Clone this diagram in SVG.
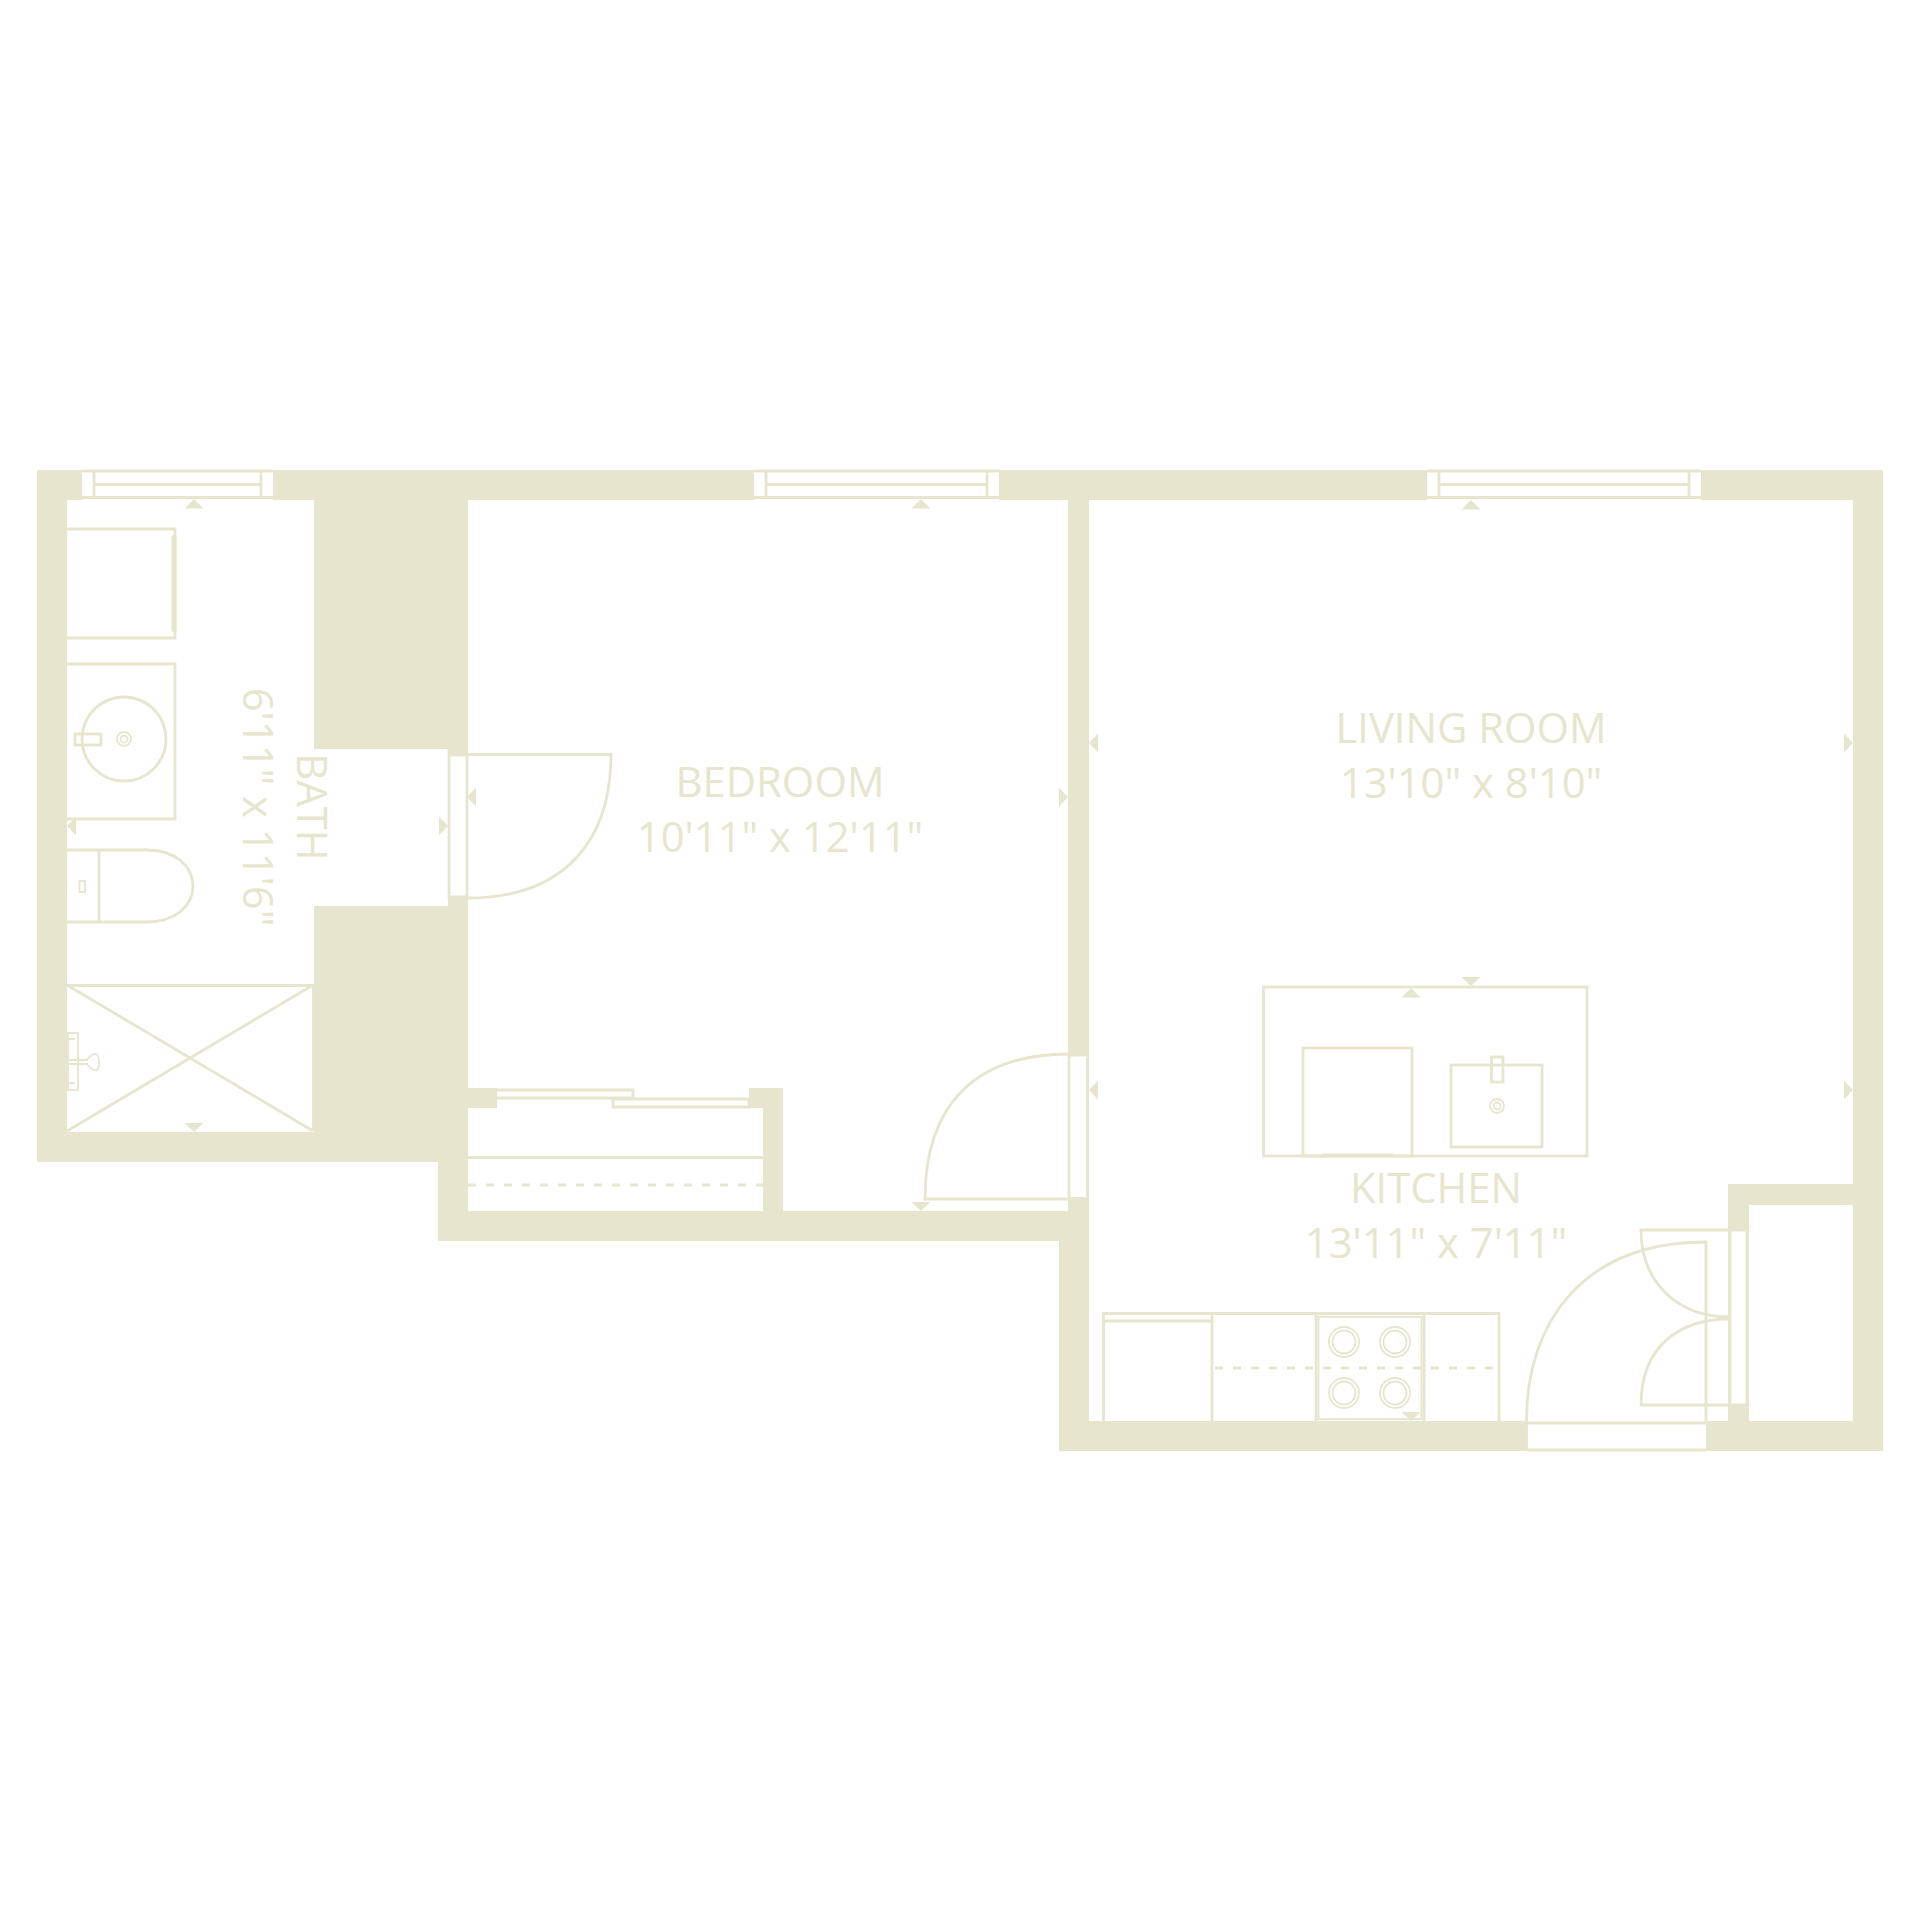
<svg xmlns="http://www.w3.org/2000/svg" width="1920" height="1920" viewBox="0 0 1920 1920">
<style>
.w{fill:#e7e5ce}
.o{fill:#fff;stroke:none}
.l{fill:none;stroke:#e7e5ce;stroke-width:2.800}
.f{fill:none;stroke:#e7e5ce;stroke-width:1.800}
.d{fill:none;stroke:#e7e5ce;stroke-width:2.800;stroke-dasharray:8 10}
.t{fill:#e7e5ce;font-family:"Open Sans","Liberation Sans",sans-serif;font-size:41.800px;font-weight:400;text-anchor:middle}
</style>
<defs>
<polygon id="up" class="w" points="0,0 9.500,9.500 -9.500,9.500"/>
<polygon id="down" class="w" points="0,0 9.500,-9 -9.500,-9"/>
<polygon id="left" class="w" points="0,0 9,-9.500 9,9.500"/>
<polygon id="right" class="w" points="0,0 -9,-9.500 -9,9.500"/>
</defs>
<rect width="1920" height="1920" fill="#fff"/>
<g id="walls">
<path class="w" fill-rule="evenodd" d="M37,470H1883V1451H1059V1241H438V1162H37Z
M67,500H314V749H448V906H314V1132H67Z
M468,500H1068V1211H783V1088H749V1108H763V1211H468V1108H497V1088H468Z
M1089,500H1853V1184H1728V1421H1089Z
M1749,1205H1853V1421H1749Z"/>
</g>
<g id="bedroom-closet">
<rect class="o" x="497" y="1087" width="252" height="22"/>
<path class="l" d="M497,1090H633V1098H497M613,1107H749V1099H613Z"/>
<path class="l" d="M468,1157.500H763"/>
<path class="d" d="M468,1185H763"/>
</g>
<g id="windows">
<g id="window-bath"><rect class="o" x="82" y="470" width="191" height="30"/><path class="l" d="M82,471H273M94,471V497M261,471V497M94,484.500H261M82,497.500H273"/></g>
<g id="window-bedroom"><rect class="o" x="754" y="470" width="245" height="30"/><path class="l" d="M754,471H999M766,471V497M987,471V497M766,484.500H987M754,497.500H999"/></g>
<g id="window-living"><rect class="o" x="1427" y="470" width="274" height="30"/><path class="l" d="M1427,471H1701M1439,471V497M1689,471V497M1439,484.500H1689M1427,497.500H1701"/></g>
</g>
<g id="door-bath">
<rect class="o" x="449" y="755" width="18" height="143"/>
<path class="l" d="M449,749V897H467V755H449"/>
<path class="l" d="M468,754.500H611C611,840 565,898 468,898"/>
</g>
<g id="door-bedroom">
<rect class="o" x="1069" y="1055" width="18" height="144"/>
<path class="l" d="M1069,1055H1087.500V1198.500H1069Z"/>
<path class="l" d="M1069,1054C975,1054 925,1105 925,1199H1069"/>
</g>
<g id="door-closet">
<rect class="o" x="1730" y="1230" width="17" height="175"/>
<path class="l" d="M1730,1230H1747V1405H1730Z"/>
<path class="l" d="M1730,1230H1641C1641,1280 1675,1317 1730,1317"/>
<path class="l" d="M1730,1319C1675,1319 1641,1350 1641,1405H1730"/>
</g>
<g id="door-entry">
<rect class="o" x="1527" y="1421" width="179" height="30"/>
<path class="l" d="M1527,1450H1706M1527,1423H1706M1526.500,1450V1421C1526.500,1320 1585,1242 1706,1242V1423"/>
</g>
<g id="bath-fixtures">
<path class="l" d="M67,529H175V638H67"/>
<rect class="w" x="171.500" y="535" width="5" height="97" rx="2"/>
<path class="l" d="M67,664H175V819H67"/>
<circle class="l" cx="124" cy="739" r="42"/>
<rect class="l" x="75" y="734" width="26" height="11"/>
<circle class="f" cx="124" cy="739" r="7"/><circle class="f" cx="124" cy="739" r="3.500"/>
<path class="l" d="M67,850H147C175,850 193,866 193,886C193,906 175,922 147,922H67M99,850V922"/>
<rect class="f" x="79.500" y="881" width="5.500" height="11"/>
<path class="l" d="M67,985.500H314M313.500,985V1131M67,985L313,1131M313,985L67,1131"/>
<rect class="f" x="68" y="1033" width="10" height="57"/>
<path class="f" d="M68,1039H75M68,1083H75M68,1060H88M68,1064H88M86,1060C90,1058 91,1053 96,1054C100,1055 100,1070 96,1070C91,1071 90,1066 86,1064"/>
</g>
<g id="kitchen-fixtures">
<rect class="l" x="1263.500" y="987" width="323.500" height="169"/>
<rect class="l" x="1303" y="1048" width="109" height="108"/>
<path class="l" d="M1322,1155H1393"/>
<rect class="l" x="1451" y="1065" width="91" height="82"/>
<rect class="l" x="1491.500" y="1057" width="11.500" height="25"/>
<circle class="f" cx="1497" cy="1106" r="7"/><circle class="f" cx="1497" cy="1106" r="3.500"/>
<path class="l" d="M1103.500,1421V1313.500H1499V1421M1103,1321H1212M1212,1313V1421M1316,1313V1421M1424,1313V1421"/>
<rect class="f" x="1318.500" y="1317" width="103" height="102"/>
<path class="d" d="M1215,1368H1497"/>
<circle class="f" cx="1344" cy="1342" r="15"/><circle class="f" cx="1344" cy="1342" r="11.500"/>
<circle class="f" cx="1395" cy="1342" r="15"/><circle class="f" cx="1395" cy="1342" r="11.500"/>
<circle class="f" cx="1344" cy="1393" r="15"/><circle class="f" cx="1344" cy="1393" r="11.500"/>
<circle class="f" cx="1395" cy="1393" r="15"/><circle class="f" cx="1395" cy="1393" r="11.500"/>
</g>
<g id="markers">
<use href="#up" x="194" y="499"/><use href="#up" x="921" y="499"/><use href="#up" x="1471" y="500"/><use href="#up" x="1411" y="988"/>
<use href="#down" x="194" y="1132"/><use href="#down" x="921" y="1211"/><use href="#down" x="1471" y="986"/><use href="#down" x="1411" y="1421"/>
<use href="#left" x="67" y="826"/><use href="#left" x="467" y="797"/><use href="#left" x="1089" y="743"/><use href="#left" x="1089" y="1090"/>
<use href="#right" x="448" y="826"/><use href="#right" x="1068" y="797"/><use href="#right" x="1853" y="743"/><use href="#right" x="1853" y="1090"/>
</g>
<g id="labels">
<text class="t" x="780" y="797">BEDROOM</text>
<text class="t" x="780" y="852">10'11" x 12'11"</text>
<text class="t" x="1471" y="743">LIVING ROOM</text>
<text class="t" x="1471" y="798">13'10" x 8'10"</text>
<text class="t" x="1436" y="1203">KITCHEN</text>
<text class="t" x="1436" y="1258">13'11" x 7'11"</text>
<text class="t" transform="translate(297,807) rotate(90)">BATH</text>
<text class="t" transform="translate(242.500,807) rotate(90)">6'11" x 11'6"</text>
</g>
</svg>
